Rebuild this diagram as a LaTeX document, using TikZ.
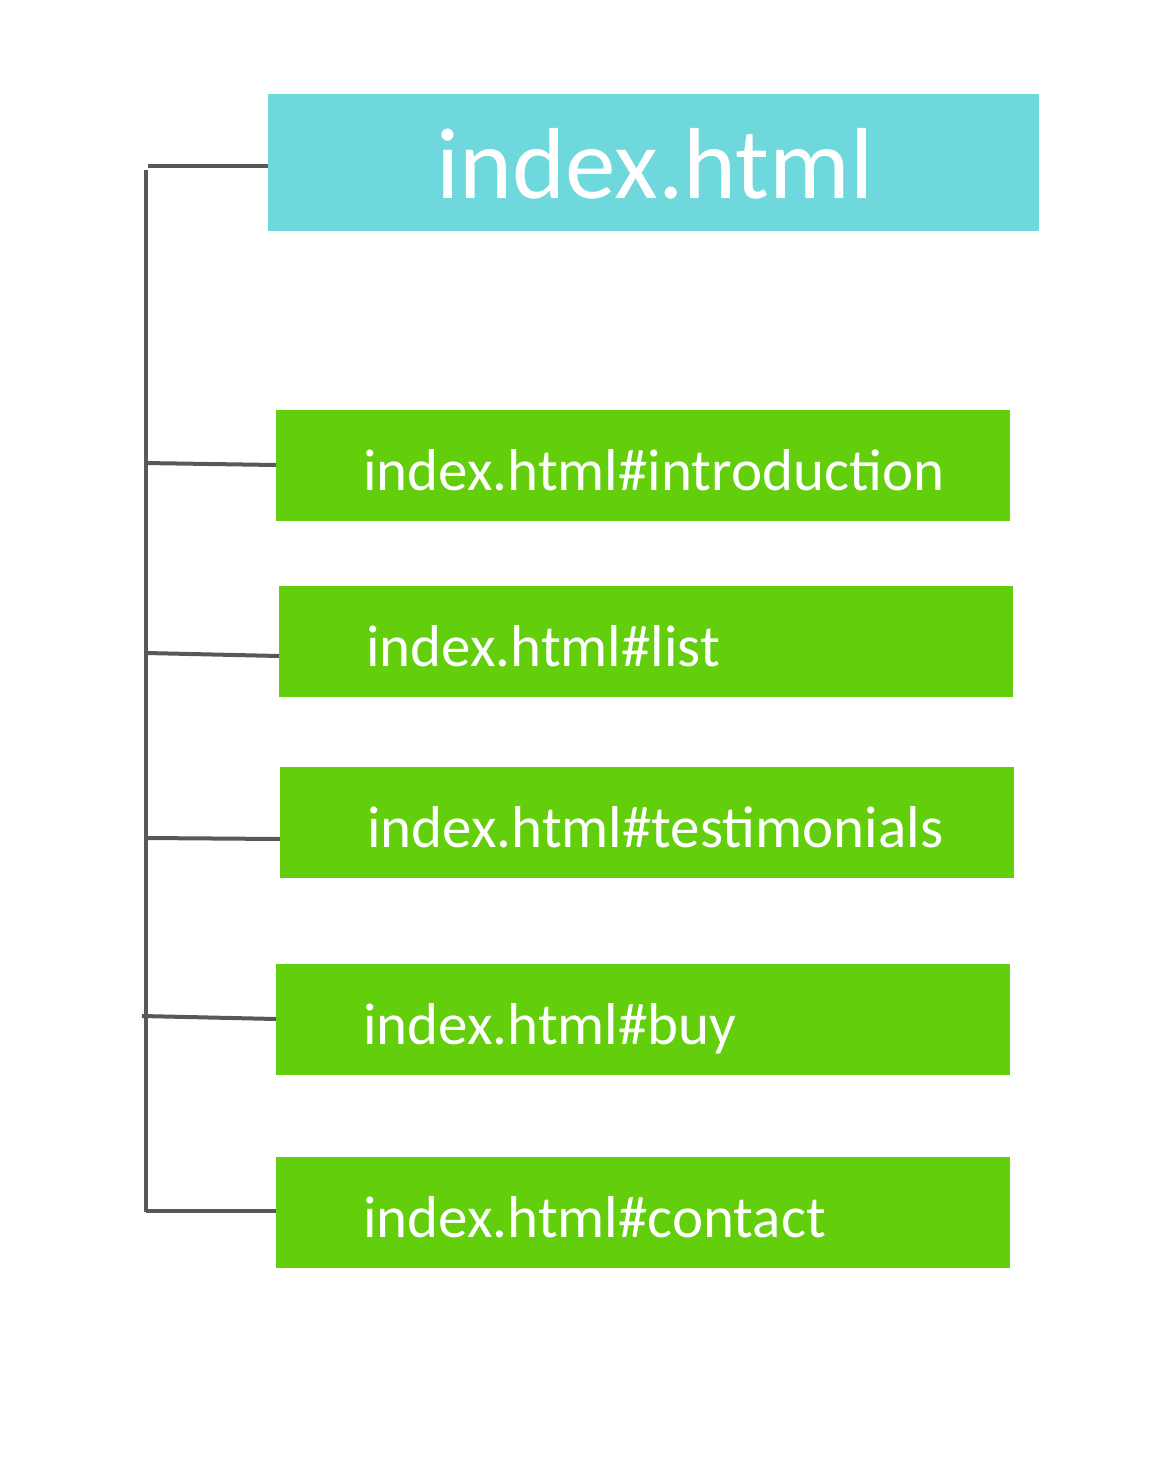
\documentclass[tikz,border=0pt]{standalone}
\usepackage{fontspec}
\setmainfont{Carlito}
\definecolor{rootfill}{HTML}{6ED8DC}
\definecolor{secfill}{HTML}{62CE0C}
\definecolor{linkline}{HTML}{585858}
\begin{document}
\begin{tikzpicture}[x=1pt,y=-1pt,
  rootbox/.style={fill=rootfill,draw=none},
  secbox/.style={fill=secfill,draw=none},
  rootlabel/.style={text=white,inner sep=0pt,anchor=base,font=\fontsize{101}{112}\selectfont},
  seclabel/.style={text=white,inner sep=0pt,anchor=base west,font=\fontsize{59}{67}\selectfont},
  link/.style={draw=linkline,line width=4pt}]
\useasboundingbox (0,0) rectangle (1155,1461);
% boxes
\fill[rootbox] (268,94) rectangle (1039,231);
\fill[secbox] (276,410) rectangle (1010,521);
\fill[secbox] (279,586) rectangle (1013,697);
\fill[secbox] (280,767) rectangle (1014,878);
\fill[secbox] (276,964) rectangle (1010,1075);
\fill[secbox] (276,1157) rectangle (1010,1268);
% labels
\node[rootlabel] (root) at (655,198) {index.html};
\node[seclabel] (intro) at (363,490) {index.html\#introduction};
\node[seclabel] (list) at (366,666) {index.html\#list};
\node[seclabel] (testi) at (367,847) {index.html\#testimonials};
\node[seclabel] (buy) at (363,1044) {index.html\#buy};
\node[seclabel] (contact) at (363,1237) {index.html\#contact};
% anchor points of the tree
\coordinate (rootin) at (268,166);
\coordinate (introin) at (276,465);
\coordinate (listin) at (279,656);
\coordinate (testiin) at (280,839);
\coordinate (buyin) at (276,1019);
\coordinate (contactin) at (276,1211);
\coordinate (top) at (146,170);
\coordinate (bottom) at (146,1212);
% tree connectors
\draw[link] (top) -- (bottom);
\draw[link] (rootin) -- (148,166);
\draw[link] (144,463) -- (introin);
\draw[link] (146,653) -- (listin);
\draw[link] (146,838) -- (testiin);
\draw[link] (142,1016) -- (buyin);
\draw[link] (146,1211) -- (contactin);
\end{tikzpicture}
\end{document}
